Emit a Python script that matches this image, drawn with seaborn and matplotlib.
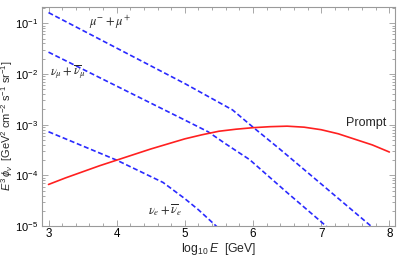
import numpy as np
import pandas as pd
import matplotlib
matplotlib.use("Agg")
import matplotlib.pyplot as plt
import matplotlib.ticker as mticker
import seaborn as sns

# log10(E/GeV) and log10(E^3 phi)
mu_x = [3.0, 4.0, 5.0, 5.7, 6.0, 6.4, 7.0, 7.8]
mu_y = [-0.79, -1.49, -2.19, -2.71, -3.05, -3.49, -4.17, -5.08]

numu_x = [3.0, 4.0, 5.0, 5.34, 5.6, 5.95, 6.5, 7.15]
numu_y = [-1.57, -2.24, -2.91, -3.14, -3.38, -3.69, -4.34, -5.09]

nue_x = [3.0, 4.0, 4.68, 5.0, 5.2, 5.5]
nue_y = [-3.14, -3.70, -4.14, -4.46, -4.68, -5.05]

prompt_x = [3.0, 3.25, 3.5, 3.75, 4.0, 4.25, 4.5, 4.75, 5.0, 5.25, 5.5,
            5.75, 6.0, 6.25, 6.5, 6.75, 7.0, 7.25, 7.5, 7.75, 8.0]
prompt_y = [-4.18, -4.05, -3.93, -3.81, -3.70, -3.59, -3.48, -3.38, -3.28,
            -3.20, -3.13, -3.09, -3.06, -3.04, -3.03, -3.05, -3.10, -3.18,
            -3.29, -3.40, -3.54]

sns.set_style("ticks")
plt.rcParams["font.family"] = ["Liberation Sans", "DejaVu Sans"]
plt.rcParams["mathtext.fontset"] = "custom"
plt.rcParams["mathtext.rm"] = "Liberation Sans"
plt.rcParams["mathtext.it"] = "Liberation Sans:italic"

blue = "#2a2aff"
red = "#ff2020"
gray = "#9a9a9a"

fig = plt.figure(figsize=(3.99, 2.56), dpi=100)
ax = fig.add_axes([0.1045, 0.117, 0.885, 0.856])

for xs, ys in [(mu_x, mu_y), (numu_x, numu_y), (nue_x, nue_y)]:
    df = pd.DataFrame({"x": xs, "y": 10.0 ** np.array(ys)})
    sns.lineplot(data=df, x="x", y="y", ax=ax, color=blue, lw=1.2,
                 dashes=False, linestyle=(0, (3, 1.6)), sort=False)

dfp = pd.DataFrame({"x": prompt_x, "y": 10.0 ** np.array(prompt_y)})
sns.lineplot(data=dfp, x="x", y="y", ax=ax, color=red, lw=1.2, sort=False)

ax.set_yscale("log")
ax.set_xlim(2.9, 8.08)
ax.set_ylim(1e-5, 0.21)

ax.xaxis.set_major_locator(mticker.MultipleLocator(1))
ax.xaxis.set_minor_locator(mticker.MultipleLocator(0.2))
ax.yaxis.set_major_locator(mticker.LogLocator(base=10, numticks=10))
ax.yaxis.set_minor_locator(mticker.LogLocator(base=10, subs=np.arange(2, 10), numticks=10))
ax.yaxis.set_minor_formatter(mticker.NullFormatter())

ax.tick_params(which="both", direction="in", top=True, right=True,
               color=gray, labelsize=8.4, labelcolor="black", width=0.6)
ax.tick_params(which="major", length=4, pad=2.5)
ax.tick_params(which="minor", length=2)
ax.tick_params(axis="x", which="major", pad=1.5)
ax.tick_params(axis="y", labelsize=8)
for s in ax.spines.values():
    s.set_color(gray)
    s.set_linewidth(0.8)

ax.set_xlabel(r"log$_{10}$$\,E$  [GeV]", fontsize=8.8)
ax.set_ylabel(r"$E^3\,\phi_\nu$  [GeV$^2$ cm$^{-2}$ s$^{-1}$ sr$^{-1}$]",
              fontsize=7.9)
ax.xaxis.set_label_coords(0.5, -0.07)
ax.yaxis.set_label_coords(-0.075, 0.46)

ax.text(3.6, 0.105, r"$\mu^{-}+\mu^{+}$", fontsize=9, ha="left", va="center",
        math_fontfamily="stix")
ax.text(3.02, 0.0108, r"$\nu_\mu+\overline{\nu}_\mu$", fontsize=9, ha="left",
        va="center", math_fontfamily="stix")
ax.text(4.46, 2.1e-5, r"$\nu_e+\overline{\nu}_e$", fontsize=9, ha="left",
        va="center", math_fontfamily="stix")
ax.text(7.96, 1.1e-3, "Prompt", fontsize=9, ha="right", va="center")

fig.savefig("out.png", dpi=100)
